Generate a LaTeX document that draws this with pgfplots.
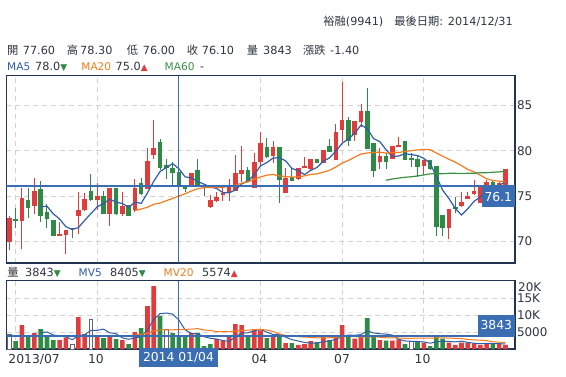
\documentclass[border=0pt]{standalone}
\usepackage{pgfplots}
\usepackage{pgfplotstable}
\pgfplotsset{compat=1.18}
\usepackage{fontspec}
\setmainfont{DejaVu Sans}
\newfontfamily\cjk{Noto Sans CJK TC}
\definecolor{cred}{HTML}{E03C3C}
\definecolor{cgreen}{HTML}{2E8B45}
\definecolor{cblue}{HTML}{2F5DA8}
\definecolor{corange}{HTML}{F27B1F}
\definecolor{cma60}{HTML}{3A9142}
\definecolor{frame}{HTML}{1F3552}
\definecolor{cross}{HTML}{3B6DB3}
\definecolor{txt}{HTML}{2E3640}
\definecolor{gridc}{HTML}{D2D2D2}
\definecolor{cgray}{HTML}{666666}
\pgfplotstableread{
n o h l c v kc kv
1 69.93 72.8 69.0 72.61 4200 1 3
2 72.43 73.64 71.44 72.28 2350 2 2
3 72.28 75.85 69.12 74.78 7060 1 1
4 74.56 75.92 72.54 73.71 3900 2 2
5 73.93 76.95 72.98 75.55 4700 1 1
6 75.77 76.65 72.17 72.83 5880 2 2
7 73.24 74.08 71.44 72.5 3530 2 2
8 72.35 72.4 70.6 70.63 2650 2 2
9 70.63 72.17 70.6 70.85 2650 1 1
10 70.7 71.29 68.57 71.29 3430 1 1
11 71.4 71.45 70.35 71.4 1370 3 3
12 72.83 75.4 70.77 73.46 9400 1 1
13 73.49 75.3 73.31 74.67 4400 1 1
14 75.55 77.39 74.45 74.6 8730 2 3
15 74.6 76.4 73.46 75.0 3530 1 1
16 75.0 75.55 73.05 73.05 3230 2 2
17 73.05 75.92 71.69 75.92 4020 1 1
18 75.92 75.92 72.9 73.05 2940 2 2
19 73.05 75.4 72.8 73.9 2650 1 1
20 74.0 74.0 72.83 72.83 1470 2 2
21 73.45 76.84 73.27 75.92 5000 1 1
22 76.4 76.95 75.11 75.26 6170 2 2
23 75.77 80.26 75.77 78.86 12640 1 1
24 79.56 83.34 79.12 80.3 18500 1 1
25 80.95 81.32 77.87 78.12 9700 2 2
26 78.38 79.12 76.91 78.12 5880 2 3
27 78.05 78.75 76.1 77.5 4700 2 2
28 77.6 78.3 76.0 76.1 3843 2 2
29 76.1 76.1 75.44 75.8 4020 2 2
30 76.1 77.54 76.1 77.54 4700 1 1
31 77.87 79.04 76.1 76.1 4700 2 2
32 76.0 76.1 75.0 76.0 880 3 2
33 73.82 75.11 73.64 74.56 1470 1 2
34 74.49 75.48 74.38 74.93 2940 1 1
35 75.11 76.03 74.49 75.3 2450 1 1
36 75.3 76.91 74.49 75.96 3530 1 1
37 75.59 79.48 75.59 77.54 7350 1 1
38 77.46 80.51 76.58 77.9 7060 1 1
39 77.87 78.23 76.58 76.58 3530 2 2
40 75.92 79.7 75.92 78.75 5490 1 1
41 78.75 82.1 78.23 80.88 5490 1 1
42 80.4 81.36 79.19 79.3 3230 2 2
43 79.45 81.07 78.6 80.4 3530 1 1
44 80.4 80.4 74.19 76.8 3530 2 2
45 75.37 78.05 75.37 77.02 1760 1 1
46 77.06 78.05 76.69 76.69 1760 2 2
47 76.91 78.05 76.76 78.05 1180 1 1
48 78.05 79.34 78.05 78.31 1470 1 1
49 77.98 79.08 77.87 79.08 2350 1 1
50 79.08 79.08 78.64 78.64 2060 2 2
51 78.64 80.11 78.64 80.11 3530 1 1
52 80.55 81.25 79.89 79.89 2650 2 2
53 78.93 82.9 78.93 82.06 3530 1 1
54 82.31 87.53 80.99 83.34 7060 1 1
55 83.34 83.71 80.55 81.1 3820 2 2
56 81.69 83.23 81.1 83.23 3030 1 1
57 83.16 85.11 82.57 84.37 3820 1 1
58 84.37 86.87 80.15 80.15 9110 2 2
59 80.84 80.84 77.06 77.79 3820 2 2
60 78.79 80.26 77.94 79.41 2650 1 1
61 79.41 79.78 77.94 78.79 2450 2 2
62 79.12 80.51 79.12 80.51 2450 1 1
63 80.44 81.47 80.44 80.62 2850 1 1
64 81.07 81.07 78.97 78.97 1470 2 2
65 79.23 79.78 78.16 78.97 2150 2 3
66 79.04 79.52 77.13 78.23 2150 2 2
67 78.31 78.97 77.32 78.97 1860 1 1
68 78.97 78.97 77.87 77.98 880 2 2
69 78.35 78.35 70.63 71.62 3530 2 2
70 72.9 72.9 70.63 71.44 3030 2 2
71 71.44 73.57 70.22 73.57 1860 1 1
72 73.82 74.85 73.09 73.6 1180 2 1
73 73.9 75.4 73.82 74.34 1860 1 1
74 74.71 75.4 74.63 75.0 1860 1 1
75 75.22 76.76 75.15 75.55 1670 1 1
76 74.2 76.0 74.2 76.0 1180 1 1
77 76.03 76.76 75.66 76.5 1670 1 1
78 76.5 76.8 75.8 76.2 1670 2 2
79 76.14 76.6 76.0 76.4 1670 1 1
80 76.03 77.94 76.0 77.94 1180 1 1
}\bars
\newcommand\candles[2]{%
\addplot[#2, mark=none, draw=none, forget plot, restrict expr to domain={\thisrow{kc}}{#1},
  error bars/.cd, y dir=plus, y explicit, error mark=none,
  error bar style={draw=#2, line width=1bp}]
  table[x=n, y=l, y error expr={\thisrow{h}-\thisrow{l}}] {\bars};
\addplot[#2, mark=none, draw=none, forget plot, restrict expr to domain={\thisrow{kc}}{#1},
  error bars/.cd, y dir=plus, y explicit, error mark=none,
  error bar style={draw=#2, line width=4.6bp}]
  table[x=n, y expr={min(\thisrow{o},\thisrow{c})}, y error expr={max(abs(\thisrow{c}-\thisrow{o}),0.12)}] {\bars};}
\newcommand\tx[4][txt]{\node[anchor=base west, inner sep=0pt, text=#1, font=\fontsize{11.3}{13}\selectfont] at (#2bp,-#3bp) {#4};}
\newcommand\tl[4][txt]{\node[anchor=base west, inner sep=0pt, text=#1, font=\fontsize{10.6}{13}\selectfont] at (#2bp,-#3bp) {#4};}
\begin{document}
\begin{tikzpicture}
\fill[white] (0,0) rectangle (566bp,-377bp);
\useasboundingbox (0,0) rectangle (566bp,-377bp);
% main price panel
\begin{axis}[at={(6.3bp,-263bp)}, anchor=south west, scale only axis,
  width=508.7bp, height=187.5bp, xmin=0.52, xmax=81.52, ymin=67.61, ymax=88.29,
  enlargelimits=false, axis line style={frame, line width=1.2bp},
  xtick={2,15,28,41,54,67}, xticklabels={}, ytick={70,75,80,85}, yticklabels={70,75,80,85},
  yticklabel pos=right, major tick length=0pt,
  yticklabel style={text=txt, font=\fontsize{12}{14}\selectfont, xshift=-1.5bp},
  grid=major, major grid style={gridc, dash pattern=on 5bp off 4bp, line width=0.8bp},
  unbounded coords=jump]
\candles{0.5:1.5}{cred}
\candles{1.5:2.5}{cgreen}
\candles{2.5:3.5}{cgray}
\addplot[cblue, line width=1.2bp, mark=none] coordinates {
(6,73.83)(7,73.87)(8,73.04)(9,72.47)(10,71.62)(11,71.31)(12,71.51)(13,72.31)(14,73.06)(15,73.81)
(16,74.16)(17,74.65)(18,74.32)(19,74.18)(20,73.75)(21,74.32)(22,74.19)(23,75.35)(24,76.63)(25,77.69)
(26,78.13)(27,78.57)(28,78.01)(29,77.11)(30,77.0)(31,76.59)(32,76.31)(33,76.0)(34,75.83)(35,75.38)
(36,75.35)(37,75.66)(38,76.33)(39,76.66)(40,77.35)(41,78.33)(42,78.68)(43,79.18)(44,79.23)(45,78.88)
(46,78.04)(47,77.79)(48,77.37)(49,77.83)(50,78.15)(51,78.84)(52,79.21)(53,79.96)(54,80.81)(55,81.3)
(56,81.92)(57,82.82)(58,82.44)(59,81.33)(60,80.99)(61,80.1)(62,79.33)(63,79.42)(64,79.66)(65,79.57)
(66,79.46)(67,79.15)(68,78.62)(69,77.15)(70,75.65)(71,74.72)(72,73.64)(73,72.91)(74,73.59)(75,74.41)
(76,74.9)(77,75.48)(78,75.86)(79,76.14)(80,76.61)};
\addplot[corange, line width=1.2bp, mark=none] coordinates {
(21,73.41)(22,73.56)(23,73.76)(24,74.09)(25,74.22)(26,74.48)(27,74.73)(28,75.0)(29,75.25)(30,75.56)
(31,75.8)(32,75.93)(33,75.92)(34,75.94)(35,75.95)(36,76.1)(37,76.18)(38,76.42)(39,76.56)(40,76.85)
(41,77.1)(42,77.3)(43,77.38)(44,77.21)(45,77.15)(46,77.08)(47,77.11)(48,77.22)(49,77.38)(50,77.44)
(51,77.64)(52,77.83)(53,78.21)(54,78.63)(55,78.92)(56,79.28)(57,79.63)(58,79.74)(59,79.8)(60,79.83)
(61,79.73)(62,79.79)(63,79.8)(64,79.91)(65,80.0)(66,80.08)(67,80.13)(68,80.11)(69,79.74)(70,79.38)
(71,79.05)(72,78.74)(73,78.35)(74,77.93)(75,77.66)(76,77.3)(77,76.9)(78,76.7)(79,76.64)(80,76.56)};
\addplot[cma60, line width=1.2bp, mark=none] coordinates {
(61,76.74)(62,76.88)(63,76.98)(64,77.07)(65,77.12)(66,77.21)(67,77.32)(68,77.44)(69,77.46)(70,77.46)
(71,77.5)(72,77.5)(73,77.49)(74,77.5)(75,77.51)(76,77.56)(77,77.57)(78,77.62)(79,77.66)(80,77.75)};
\addplot[cross, line width=1.2bp, mark=none] coordinates {(28,67.61)(28,88.29)};
\addplot[cross, line width=1.2bp, mark=none] coordinates {(0.52,76.1)(81.52,76.1)};
\end{axis}
% volume panel
\begin{axis}[at={(6.3bp,-349bp)}, anchor=south west, scale only axis,
  width=508.7bp, height=68.3bp, xmin=0.52, xmax=81.52, ymin=0, ymax=20100,
  enlargelimits=false, axis line style={frame, line width=1.2bp},
  xtick={2,15,28,41,54,67}, xticklabels={}, ytick={5000,10000,15000}, yticklabels={5000,10K,15K},
  yticklabel pos=right, major tick length=0pt, scaled y ticks=false,
  yticklabel style={text=txt, font=\fontsize{12}{14}\selectfont, xshift=-1.5bp},
  grid=major, major grid style={gridc, dash pattern=on 5bp off 4bp, line width=0.8bp}]
\addplot[ybar, bar width=4.6bp, bar shift=0pt, fill=cred, draw=none, restrict expr to domain={\thisrow{kv}}{0.5:1.5}] table[x=n,y=v]{\bars};
\addplot[ybar, bar width=4.6bp, bar shift=0pt, fill=cgreen, draw=none, restrict expr to domain={\thisrow{kv}}{1.5:2.5}] table[x=n,y=v]{\bars};
\addplot[ybar, bar width=3.8bp, bar shift=0pt, fill=white, draw=cgray, line width=0.9bp, restrict expr to domain={\thisrow{kv}}{2.5:3.5}] table[x=n,y=v]{\bars};
\addplot[cblue, line width=1bp, mark=none] coordinates {
(6,4778)(7,5014)(8,4132)(9,3882)(10,3628)(11,2726)(12,3900)(13,4250)(14,5466)(15,5486)
(16,5858)(17,4782)(18,4490)(19,3274)(20,2862)(21,3216)(22,3646)(23,5586)(24,8756)(25,10402)
(26,10578)(27,10284)(28,8525)(29,5629)(30,4629)(31,4393)(32,3629)(33,3154)(34,2938)(35,2488)
(36,2254)(37,3548)(38,4666)(39,4784)(40,5392)(41,5784)(42,4960)(43,4254)(44,4254)(45,3508)
(46,2762)(47,2352)(48,1940)(49,1704)(50,1764)(51,2118)(52,2412)(53,2824)(54,3766)(55,4118)
(56,4018)(57,4252)(58,5368)(59,4720)(60,4486)(61,4370)(62,4096)(63,2844)(64,2374)(65,2274)
(66,2214)(67,2096)(68,1702)(69,2114)(70,2290)(71,2232)(72,2096)(73,2292)(74,1958)(75,1686)
(76,1550)(77,1648)(78,1610)(79,1572)(80,1474)};
\addplot[corange, line width=1bp, mark=none] coordinates {
(21,4145)(22,4336)(23,4615)(24,5345)(25,5595)(26,5595)(27,5653)(28,5713)(29,5781)(30,5845)
(31,6011)(32,5585)(33,5439)(34,5149)(35,5095)(36,5110)(37,5277)(38,5483)(39,5527)(40,5728)
(41,5752)(42,5605)(43,5150)(44,4401)(45,4004)(46,3798)(47,3622)(48,3504)(49,3420)(50,3288)
(51,3230)(52,3318)(53,3421)(54,3627)(55,3696)(56,3671)(57,3494)(58,3597)(59,3611)(60,3469)
(61,3317)(62,3278)(63,3244)(64,3141)(65,3161)(66,3180)(67,3214)(68,3185)(69,3244)(70,3292)
(71,3209)(72,3135)(73,3052)(74,2792)(75,2684)(76,2592)(77,2484)(78,2112)(79,2005)(80,1931)};
\addplot[cross, line width=1.2bp, mark=none] coordinates {(28,0)(28,20100)};
\addplot[cross, line width=1.2bp, mark=none] coordinates {(0.52,3843)(81.52,3843)};
\end{axis}
% texts
\node[anchor=base east, inner sep=0pt, text=txt, font=\fontsize{11.3}{13}\selectfont] at (513bp,-25bp) {{\cjk 裕融}(9941)\hspace{11bp}{\cjk 最後日期}: 2014/12/31};
\tx{7}{54.3}{\cjk 開}\tx{22.7}{54.3}{77.60}
\tx{66.7}{54.3}{\cjk 高}\tx{80}{54.3}{78.30}
\tx{126.7}{54.3}{\cjk 低}\tx{142.7}{54.3}{76.00}
\tx{186.7}{54.3}{\cjk 收}\tx{201.7}{54.3}{76.10}
\tx{246.7}{54.3}{\cjk 量}\tx{263}{54.3}{3843}
\tx{303}{54.3}{\cjk 漲跌}\tx{330}{54.3}{-1.40}
\tl[cblue]{7}{70}{MA5}\tx{35}{70}{78.0{\color{cgreen}\fontsize{9}{10}\selectfont▼}}
\tl[corange]{81.2}{70}{MA20}\tx{115.5}{70}{75.0{\color{cred}\fontsize{9}{10}\selectfont▲}}
\tl[cma60]{164.5}{70}{MA60}\tx{200}{70}{-}
\tx{7.3}{276.7}{\cjk 量}\tx{25}{276.7}{3843{\color{cgreen}\fontsize{9}{10}\selectfont▼}}
\tl[cblue]{78.5}{276.7}{MV5}\tx{110}{276.7}{8405{\color{cgreen}\fontsize{9}{10}\selectfont▼}}
\tl[corange]{163.5}{276.7}{MV20}\tx{202}{276.7}{5574{\color{cred}\fontsize{9}{10}\selectfont▲}}
\node[anchor=base west, inner sep=0pt, text=txt, font=\fontsize{12}{14}\selectfont] at (518bp,-291bp) {20K};
% x labels
\begin{scope}[every node/.style={inner sep=0pt, text=txt, font=\fontsize{12.4}{14}\selectfont}]
\node[anchor=base west] at (8.3bp,-363.3bp) {2013/07};
\node[anchor=base] at (96bp,-363.3bp) {10};
\node[anchor=base] at (259.5bp,-363.3bp) {04};
\node[anchor=base] at (342bp,-363.3bp) {07};
\node[anchor=base] at (422.5bp,-363.3bp) {10};
\end{scope}
\node[fill=cross, text=white, inner sep=0pt, minimum width=79bp, minimum height=19bp, font=\fontsize{12.4}{14}\selectfont] at (178.5bp,-357.5bp) {2014 01/04};
\node[fill=cross, text=white, inner sep=0pt, minimum width=33bp, minimum height=21bp, anchor=north east, font=\fontsize{12.4}{14}\selectfont] at (515bp,-186bp) {76.1};
\node[fill=cross, text=white, inner sep=0pt, minimum width=37bp, minimum height=20.6bp, anchor=south east, font=\fontsize{12.4}{14}\selectfont] at (515bp,-335.3bp) {3843};
\end{tikzpicture}
\end{document}
